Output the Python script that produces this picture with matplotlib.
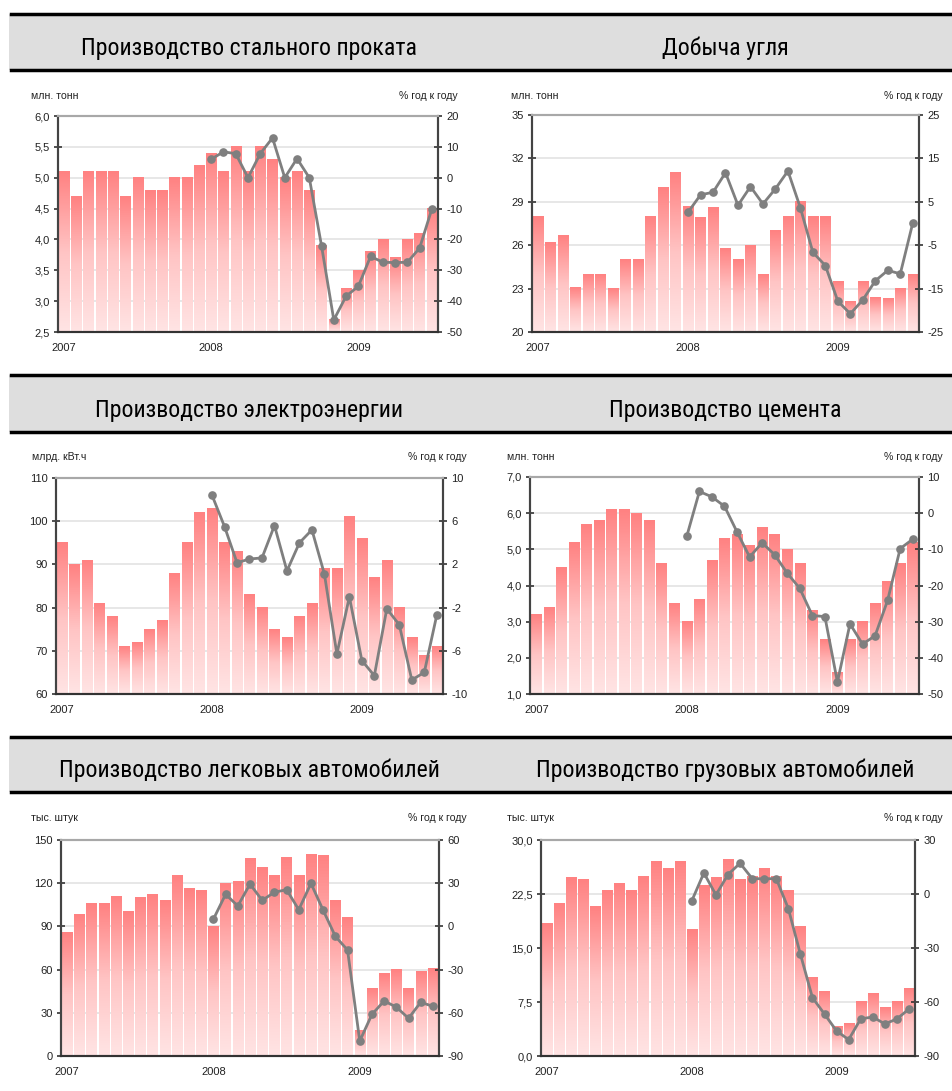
import numpy as np
import matplotlib
matplotlib.use("Agg")
import matplotlib.pyplot as plt
from matplotlib import font_manager
from matplotlib.patches import Rectangle
from matplotlib.colors import LinearSegmentedColormap

plt.rcParams['font.family'] = ['Liberation Sans', 'DejaVu Sans']

# месяцы: январь 2007 - июль 2009 (31 значение), рост год к году - с января 2008
years = ["2007", "2008", "2009"]
year_pos = [0, 12, 24]

steel_bars = [5.1, 4.7, 5.1, 5.1, 5.1, 4.7, 5.0, 4.8, 4.8, 5.0, 5.0, 5.2,
              5.4, 5.1, 5.5, 5.1, 5.5, 5.3, 5.0, 5.1, 4.8, 3.9, 2.7, 3.2,
              3.5, 3.8, 4.0, 3.7, 4.0, 4.1, 4.5]
steel_yoy = [6, 8.4, 7.8, 0, 7.8, 12.9, 0, 6.2, 0, -22.1, -46.1, -38.4,
             -35.2, -25.5, -27.4, -27.5, -27.4, -22.8, -10.1]

coal_bars = [28.0, 26.2, 26.7, 23.1, 24.0, 24.0, 23.0, 25.0, 25.0, 28.0, 30.0, 31.0,
             28.7, 27.9, 28.6, 25.8, 25.0, 26.0, 24.0, 27.0, 28.0, 29.0, 28.0, 28.0,
             23.5, 22.1, 23.5, 22.4, 22.3, 23.0, 24.0]
coal_yoy = [2.6, 6.6, 7.2, 11.7, 4.2, 8.5, 4.5, 8.0, 12.1, 3.6, -6.65, -9.7,
            -17.9, -20.8, -17.6, -13.2, -10.8, -11.6, 0.1]

elec_bars = [95, 90, 91, 81, 78, 71, 72, 75, 77, 88, 95, 102,
             103, 95, 93, 83, 80, 75, 73, 78, 81, 89, 89, 101,
             96, 87, 91, 80, 73, 69, 71]
elec_yoy = [8.4, 5.5, 2.15, 2.5, 2.6, 5.6, 1.4, 4.0, 5.2, 1.1, -6.3, -1.0,
            -6.9, -8.3, -2.1, -3.6, -8.7, -8.0, -2.7]

cement_bars = [3.2, 3.4, 4.5, 5.2, 5.7, 5.8, 6.1, 6.1, 6.0, 5.8, 4.6, 3.5,
               3.0, 3.6, 4.7, 5.3, 5.4, 5.1, 5.6, 5.4, 5.0, 4.6, 3.3, 2.5,
               1.6, 2.5, 3.0, 3.5, 4.1, 4.6, 5.2]
cement_yoy = [-6.3, 6.0, 4.5, 1.9, -5.2, -12.1, -8.2, -11.5, -16.6, -20.8, -28.3, -28.6,
              -46.7, -30.6, -36.2, -33.9, -24.1, -9.8, -7.2]

cars_bars = [86, 98, 106, 106, 111, 100, 110, 112, 108, 125, 116, 115,
             90, 120, 121, 137, 131, 125, 138, 125, 140, 139, 108, 96,
             18, 47, 57, 60, 47, 59, 61]
cars_yoy = [5, 22.3, 14.2, 29.4, 18.1, 23.7, 25.5, 11.6, 29.9, 11.2, -6.9, -16.4,
            -79.6, -61.1, -51.8, -56, -63.8, -52.7, -55.5]

trucks_bars = [18.4, 21.2, 24.8, 24.5, 20.8, 23.0, 23.9, 23.0, 24.9, 27.0, 26.0, 27.0,
               17.6, 23.7, 24.8, 27.3, 24.5, 24.9, 26.0, 24.9, 23.0, 18.0, 10.9, 9.0,
               4.1, 4.5, 7.6, 8.7, 6.8, 7.6, 9.4]
trucks_yoy = [-3.8, 11.7, -0.5, 10.8, 17.1, 8.6, 8.4, 8.6, -8.1, -33.4, -57.6, -66.7,
              -76.1, -80.9, -69.4, -68.3, -72.2, -69.4, -63.9]

titles = ["Производство стального проката", "Добыча угля",
          "Производство электроэнергии", "Производство цемента",
          "Производство легковых автомобилей", "Производство грузовых автомобилей"]
units = ["млн. тонн", "млн. тонн", "млрд. кВт.ч", "млн. тонн", "тыс. штук", "тыс. штук"]
right_unit = "% год к году"

panels = [
    (steel_bars, steel_yoy, np.arange(2.5, 6.01, 0.5), np.arange(-50, 21, 10), 1),
    (coal_bars, coal_yoy, np.arange(20, 36, 3), np.arange(-25, 26, 10), 0),
    (elec_bars, elec_yoy, np.arange(60, 111, 10), np.arange(-10, 11, 4), 0),
    (cement_bars, cement_yoy, np.arange(1.0, 7.01, 1.0), np.arange(-50, 11, 10), 1),
    (cars_bars, cars_yoy, np.arange(0, 151, 30), np.arange(-90, 61, 30), 0),
    (trucks_bars, trucks_yoy, np.arange(0, 30.01, 7.5), np.arange(-90, 31, 30), 1),
]

# узкий шрифт для заголовков, если он есть
installed = {f.name for f in font_manager.fontManager.ttflist}
title_font, title_size = ['Liberation Sans', 'DejaVu Sans'], 15.8
for name in ['Liberation Sans Narrow', 'Arial Narrow', 'DejaVu Sans Condensed',
             'Roboto Condensed', 'Open Sans Condensed']:
    if name in installed:
        title_font, title_size = [name, 'DejaVu Sans'], 17.2
        break

W, H = 953, 1091
fig = plt.figure(figsize=(W / 100, H / 100), dpi=100)

# прямоугольники областей построения в пикселях (x0, x1, y0, y1)
rects = [(58, 438, 116, 332), (532, 919, 115, 332),
         (56, 443, 478, 694), (530, 919, 477, 694),
         (61, 439, 840, 1056), (541, 915, 840, 1056)]
bands = [(14, 70), (375, 432), (737, 792)]
unit_y = [96, 96, 457, 457, 818, 818]
unit_lx = [31, 511, 32, 507, 31, 507]
unit_rx = [458, 943, 467, 943, 467, 943]

def fx(px):
    return px / W

def fy(py):
    return 1 - py / H

# серые полосы заголовков
for i, (t, b) in enumerate(bands):
    fig.patches.append(Rectangle((fx(9), fy(b)), fx(W - 9), (b - t) / H,
                                 transform=fig.transFigure, facecolor="#dedede",
                                 edgecolor="none", zorder=0))
    for yy in (t, b):
        fig.add_artist(plt.Line2D([fx(11), 1], [fy(yy), fy(yy)], color="black",
                                  lw=2.5, transform=fig.transFigure))
    for j in range(2):
        fig.text(fx(249 + 476 * j), fy(b - 15), titles[2 * i + j],
                 ha="center", va="baseline", fontsize=title_size,
                 family=title_font)

grad = LinearSegmentedColormap.from_list("g", ["#ffe4e4", "#ffc4c4", "#ff8282"])
gimg = np.linspace(0, 1, 64).reshape(-1, 1)

for k, (bars, yoy, lt, rt, dec) in enumerate(panels):
    x0, x1, y0, y1 = rects[k]
    ax = fig.add_axes([fx(x0), fy(y1), (x1 - x0) / W, (y1 - y0) / H])
    ax2 = ax.twinx()
    x = np.arange(len(bars))
    base = lt[0]
    bb = ax.bar(x, np.array(bars) - base, bottom=base, width=0.84,
                color="none", edgecolor="none", zorder=2)
    for p in bb.patches:
        ax.imshow(gimg, cmap=grad, origin="lower", aspect="auto", zorder=2,
                  extent=(p.get_x(), p.get_x() + p.get_width(),
                          p.get_y(), p.get_y() + p.get_height()))
    ax.set_xlim(-0.5, len(bars) - 0.5)
    ax.set_ylim(lt[0], lt[-1])
    ax.set_yticks(lt)
    if dec:
        ax.set_yticklabels([f"{v:.1f}".replace(".", ",") for v in lt])
    else:
        ax.set_yticklabels([f"{v:g}" for v in lt])
    ax.yaxis.grid(True, color="#e3e3e3", lw=1.2, zorder=0)
    ax.set_axisbelow(True)
    ax.set_xticks(year_pos)
    ax.set_xticklabels(years)
    ax.tick_params(axis="x", length=0, pad=8, labelsize=8, colors="#222222")
    ax.tick_params(axis="y", direction="inout", length=6, width=1.2, pad=3,
                   labelsize=8, color="#333333", labelcolor="#222222")

    lx = np.arange(12, 12 + len(yoy))
    ax2.plot(lx, yoy, color="#7f7f7f", lw=2, marker="o", ms=5.2, zorder=5)
    ax2.set_ylim(rt[0], rt[-1])
    ax2.set_yticks(rt)
    ax2.set_yticklabels([f"{v:g}" for v in rt])
    ax2.tick_params(axis="y", direction="inout", length=6, width=1.2, pad=3,
                    labelsize=8, color="#333333", labelcolor="#222222")

    for a in (ax, ax2):
        a.spines["top"].set_color("#a8a8a8")
        a.spines["top"].set_linewidth(1.5)
        a.spines["left"].set_color("#444444")
        a.spines["left"].set_linewidth(1.5)
        a.spines["right"].set_color("#444444")
        a.spines["right"].set_linewidth(1.5)
        a.spines["bottom"].set_color("#333333")
        a.spines["bottom"].set_linewidth(1.5)

    fig.text(fx(unit_lx[k]), fy(unit_y[k]), units[k], ha="left", va="center",
             fontsize=7.6, color="#222222")
    fig.text(fx(unit_rx[k]), fy(unit_y[k]), right_unit, ha="right", va="center",
             fontsize=7.6, color="#222222")

fig.savefig("out.png", dpi=100, facecolor="white")
